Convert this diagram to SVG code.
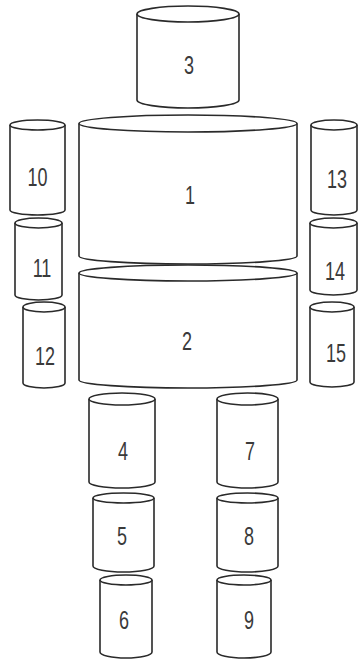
<svg xmlns="http://www.w3.org/2000/svg" width="358" height="660" viewBox="0 0 358 660">
<style>
.body{fill:#fff;stroke:#2a2a2a;stroke-width:1.6}
.top{fill:#fff;stroke:#2a2a2a;stroke-width:1.6}
.lbl{font-family:"Liberation Sans",Arial,sans-serif;font-size:25px;fill:#3a3a3a;text-anchor:middle}
</style>
<rect width="358" height="660" fill="#fff"/>
<g id="connectors"/>
<g id="n3"><path class="body" d="M137,14 L137,100 A51,8 0 0 0 239,100 L239,14"/><ellipse class="top" cx="188" cy="14" rx="51" ry="8"/><text class="lbl" transform="translate(189,74) scale(0.72,1)">3</text></g>
<g id="n1"><path class="body" d="M79,123.5 L79,256 A109,8 0 0 0 297,256 L297,123.5"/><ellipse class="top" cx="188" cy="123.5" rx="109" ry="8.5"/><text class="lbl" transform="translate(190,204) scale(0.72,1)">1</text></g>
<g id="n2"><path class="body" d="M79,273 L79,380 A109,8 0 0 0 297,380 L297,273"/><ellipse class="top" cx="188" cy="273" rx="109" ry="8"/><text class="lbl" transform="translate(187,350) scale(0.72,1)">2</text></g>
<g id="n10"><path class="body" d="M10,125 L10,210 A27.5,5 0 0 0 65,210 L65,125"/><ellipse class="top" cx="37.5" cy="125" rx="27.5" ry="5"/><text class="lbl" transform="translate(37.5,186) scale(0.72,1)">10</text></g>
<g id="n11"><path class="body" d="M15,223 L15,295 A23.5,5 0 0 0 62,295 L62,223"/><ellipse class="top" cx="38.5" cy="223" rx="23.5" ry="5"/><text class="lbl" transform="translate(42,277) scale(0.72,1)">11</text></g>
<g id="n12"><path class="body" d="M23,307 L23,383 A21,5 0 0 0 65,383 L65,307"/><ellipse class="top" cx="44" cy="307" rx="21" ry="5"/><text class="lbl" transform="translate(45,365) scale(0.72,1)">12</text></g>
<g id="n13"><path class="body" d="M311,125 L311,210 A23,5 0 0 0 357,210 L357,125"/><ellipse class="top" cx="334" cy="125" rx="23" ry="5"/><text class="lbl" transform="translate(337,188) scale(0.72,1)">13</text></g>
<g id="n14"><path class="body" d="M310,223 L310,290 A23.5,5 0 0 0 357,290 L357,223"/><ellipse class="top" cx="333.5" cy="223" rx="23.5" ry="5"/><text class="lbl" transform="translate(335,280) scale(0.72,1)">14</text></g>
<g id="n15"><path class="body" d="M310,307 L310,382 A22,5 0 0 0 354,382 L354,307"/><ellipse class="top" cx="332" cy="307" rx="22" ry="5"/><text class="lbl" transform="translate(336,362) scale(0.72,1)">15</text></g>
<g id="n4"><path class="body" d="M89,399 L89,482 A33,6 0 0 0 155,482 L155,399"/><ellipse class="top" cx="122" cy="399" rx="33" ry="6"/><text class="lbl" transform="translate(123,460) scale(0.72,1)">4</text></g>
<g id="n5"><path class="body" d="M93,498 L93,566 A30.5,6 0 0 0 154,566 L154,498"/><ellipse class="top" cx="123.5" cy="498" rx="30.5" ry="5"/><text class="lbl" transform="translate(122,545) scale(0.72,1)">5</text></g>
<g id="n6"><path class="body" d="M100,580 L100,652 A26,6 0 0 0 152,652 L152,580"/><ellipse class="top" cx="126" cy="580" rx="26" ry="5"/><text class="lbl" transform="translate(124,629) scale(0.72,1)">6</text></g>
<g id="n7"><path class="body" d="M217,399 L217,482 A30.5,6 0 0 0 278,482 L278,399"/><ellipse class="top" cx="247.5" cy="399" rx="30.5" ry="6"/><text class="lbl" transform="translate(250,460) scale(0.72,1)">7</text></g>
<g id="n8"><path class="body" d="M217,498 L217,566 A30.5,6 0 0 0 278,566 L278,498"/><ellipse class="top" cx="247.5" cy="498" rx="30.5" ry="5"/><text class="lbl" transform="translate(249,545) scale(0.72,1)">8</text></g>
<g id="n9"><path class="body" d="M217,580 L217,652 A27,6 0 0 0 271,652 L271,580"/><ellipse class="top" cx="244" cy="580" rx="27" ry="5"/><text class="lbl" transform="translate(249,629) scale(0.72,1)">9</text></g>
</svg>
